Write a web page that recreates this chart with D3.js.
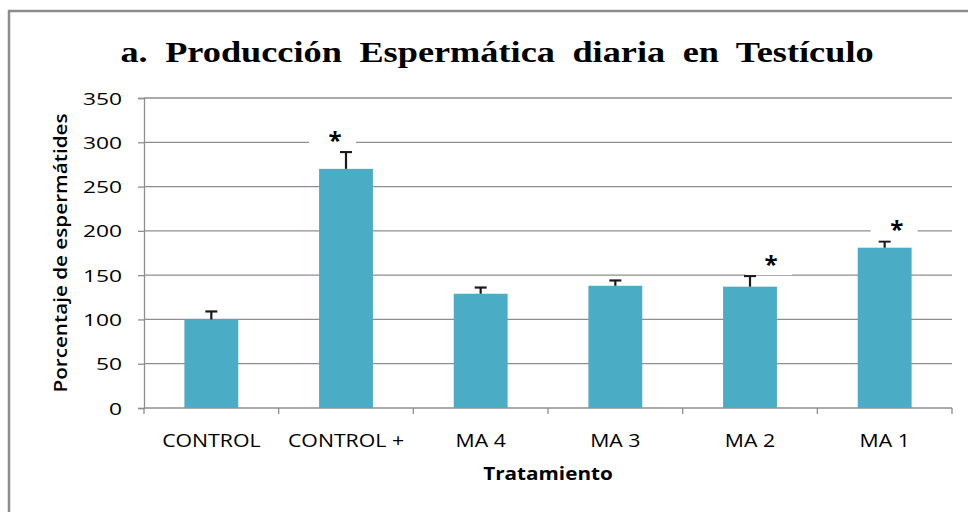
<!DOCTYPE html>
<html><head><meta charset="utf-8">
<script src="https://cdn.jsdelivr.net/npm/d3@7"></script>
<style>html,body{margin:0;padding:0;background:#fff;}</style>
</head><body>
<svg id="c" width="968" height="512"></svg>
<script>
const categories = ["CONTROL", "CONTROL +", "MA 4", "MA 3", "MA 2", "MA 1"];
const values = [100, 270, 129, 138, 137, 181];
const errors = [9, 19, 7, 6, 12, 7];
const significant = [false, true, false, false, true, true];
const yTicks = [0, 50, 100, 150, 200, 250, 300, 350];
const title = "a. Producción Espermática diaria en Testículo";
const yTitle = "Porcentaje de espermátides";
const xTitle = "Tratamiento";

const svg = d3.select("#c");
const W = 968, H = 512;
const m = {l: 144, r: 16, t: 98, b: 104};
const x = d3.scaleBand().domain(categories).range([m.l, W - m.r]).paddingInner(0.6).paddingOuter(0.3);
const xb = d3.scaleBand().domain(categories).range([m.l, W - m.r]);
const y = d3.scaleLinear().domain([0, 350]).range([H - m.b, m.t]);
const SANS = "Open Sans, sans-serif";

// frame
svg.append("rect").attr("x", 9).attr("y", 11).attr("width", 980).attr("height", 520)
  .attr("fill", "none").attr("stroke", "#8c8c8c").attr("stroke-width", 2.5);

// title
svg.append("text").attr("transform", "translate(497,62) scale(1.21,1)").attr("text-anchor", "middle")
  .attr("font-family", "Liberation Serif, Times New Roman, serif").attr("font-weight", "bold")
  .attr("font-size", 30).attr("word-spacing", 7).attr("fill", "#000").text(title);

// gridlines
svg.append("g").selectAll("line").data(yTicks.filter(d => d > 0)).join("line")
  .attr("x1", m.l).attr("x2", W - m.r).attr("y1", d => y(d)).attr("y2", d => y(d))
  .attr("stroke", "#8e8e8e").attr("stroke-width", 1.3);

// y axis
const ya = svg.append("g").attr("transform", `translate(${m.l},0)`)
  .call(d3.axisLeft(y).tickValues(yTicks).tickSize(6).tickPadding(16));
ya.select(".domain").attr("stroke", "#8e8e8e").attr("stroke-width", 1.3);
ya.selectAll(".tick line").attr("stroke", "#8e8e8e").attr("stroke-width", 1.3);
ya.selectAll(".tick text").attr("x", 0).attr("dy", null).attr("y", 6)
  .attr("transform", "translate(-22,0) scale(1.38,1)")
  .attr("font-family", SANS).attr("font-size", 16.5).attr("fill", "#000");

// x axis
const xa = svg.append("g").attr("transform", `translate(0,${y(0)})`)
  .call(d3.axisBottom(xb).tickSize(0).tickPadding(22));
xa.select(".domain").remove();
xa.append("line").attr("x1", m.l).attr("x2", W - m.r).attr("stroke", "#8e8e8e").attr("stroke-width", 1.3);
xa.selectAll(".bnd").data(d3.range(categories.length + 1)).join("line")
  .attr("x1", i => m.l + i * xb.step()).attr("x2", i => m.l + i * xb.step())
  .attr("y1", 0).attr("y2", 6).attr("stroke", "#8e8e8e").attr("stroke-width", 1.3);
xa.selectAll(".tick text").attr("y", 0).attr("dy", null)
  .attr("transform", "translate(0,38.5) scale(1.15,1)")
  .attr("font-family", SANS).attr("font-size", 18.5).attr("fill", "#000");

// bars
svg.append("g").selectAll("rect").data(categories).join("rect")
  .attr("x", d => x(d)).attr("width", x.bandwidth())
  .attr("y", (d, i) => y(values[i])).attr("height", (d, i) => y(0) - y(values[i]))
  .attr("fill", "#4bacc6");

// error bars
const eg = svg.append("g").attr("stroke", "#1a1a1a").attr("stroke-width", 2.2);
categories.forEach((c, i) => {
  const cx = x(c) + x.bandwidth() / 2;
  eg.append("line").attr("x1", cx).attr("x2", cx).attr("y1", y(values[i])).attr("y2", y(values[i] + errors[i]));
  eg.append("line").attr("x1", cx - 6).attr("x2", cx + 6).attr("y1", y(values[i] + errors[i])).attr("y2", y(values[i] + errors[i]));
});

// significance asterisks
const offs = [0, -11, 0, 0, 21, 12];
categories.forEach((c, i) => {
  if (!significant[i]) return;
  const cx = x(c) + x.bandwidth() / 2 + offs[i];
  const ty = y(values[i] + errors[i]) - 14;
  svg.append("rect").attr("x", cx - 26).attr("y", ty - 13).attr("width", 47).attr("height", 26).attr("fill", "#fff");
  svg.append("text").attr("x", cx).attr("y", ty + 11).attr("text-anchor", "middle")
    .attr("font-family", SANS).attr("font-weight", "bold").attr("font-size", 24).text("*");
});

// axis titles
svg.append("text").attr("transform", `translate(67,${(y(0) + y(350)) / 2}) rotate(-90) scale(1.15,1)`)
  .attr("text-anchor", "middle").attr("font-family", SANS).attr("font-weight", 600)
  .attr("font-size", 18).attr("fill", "#000").text(yTitle);
svg.append("text").attr("transform", "translate(548,480) scale(1.15,1)").attr("text-anchor", "middle")
  .attr("font-family", SANS).attr("font-weight", "bold")
  .attr("font-size", 18).attr("fill", "#000").text(xTitle);
</script>
</body></html>
